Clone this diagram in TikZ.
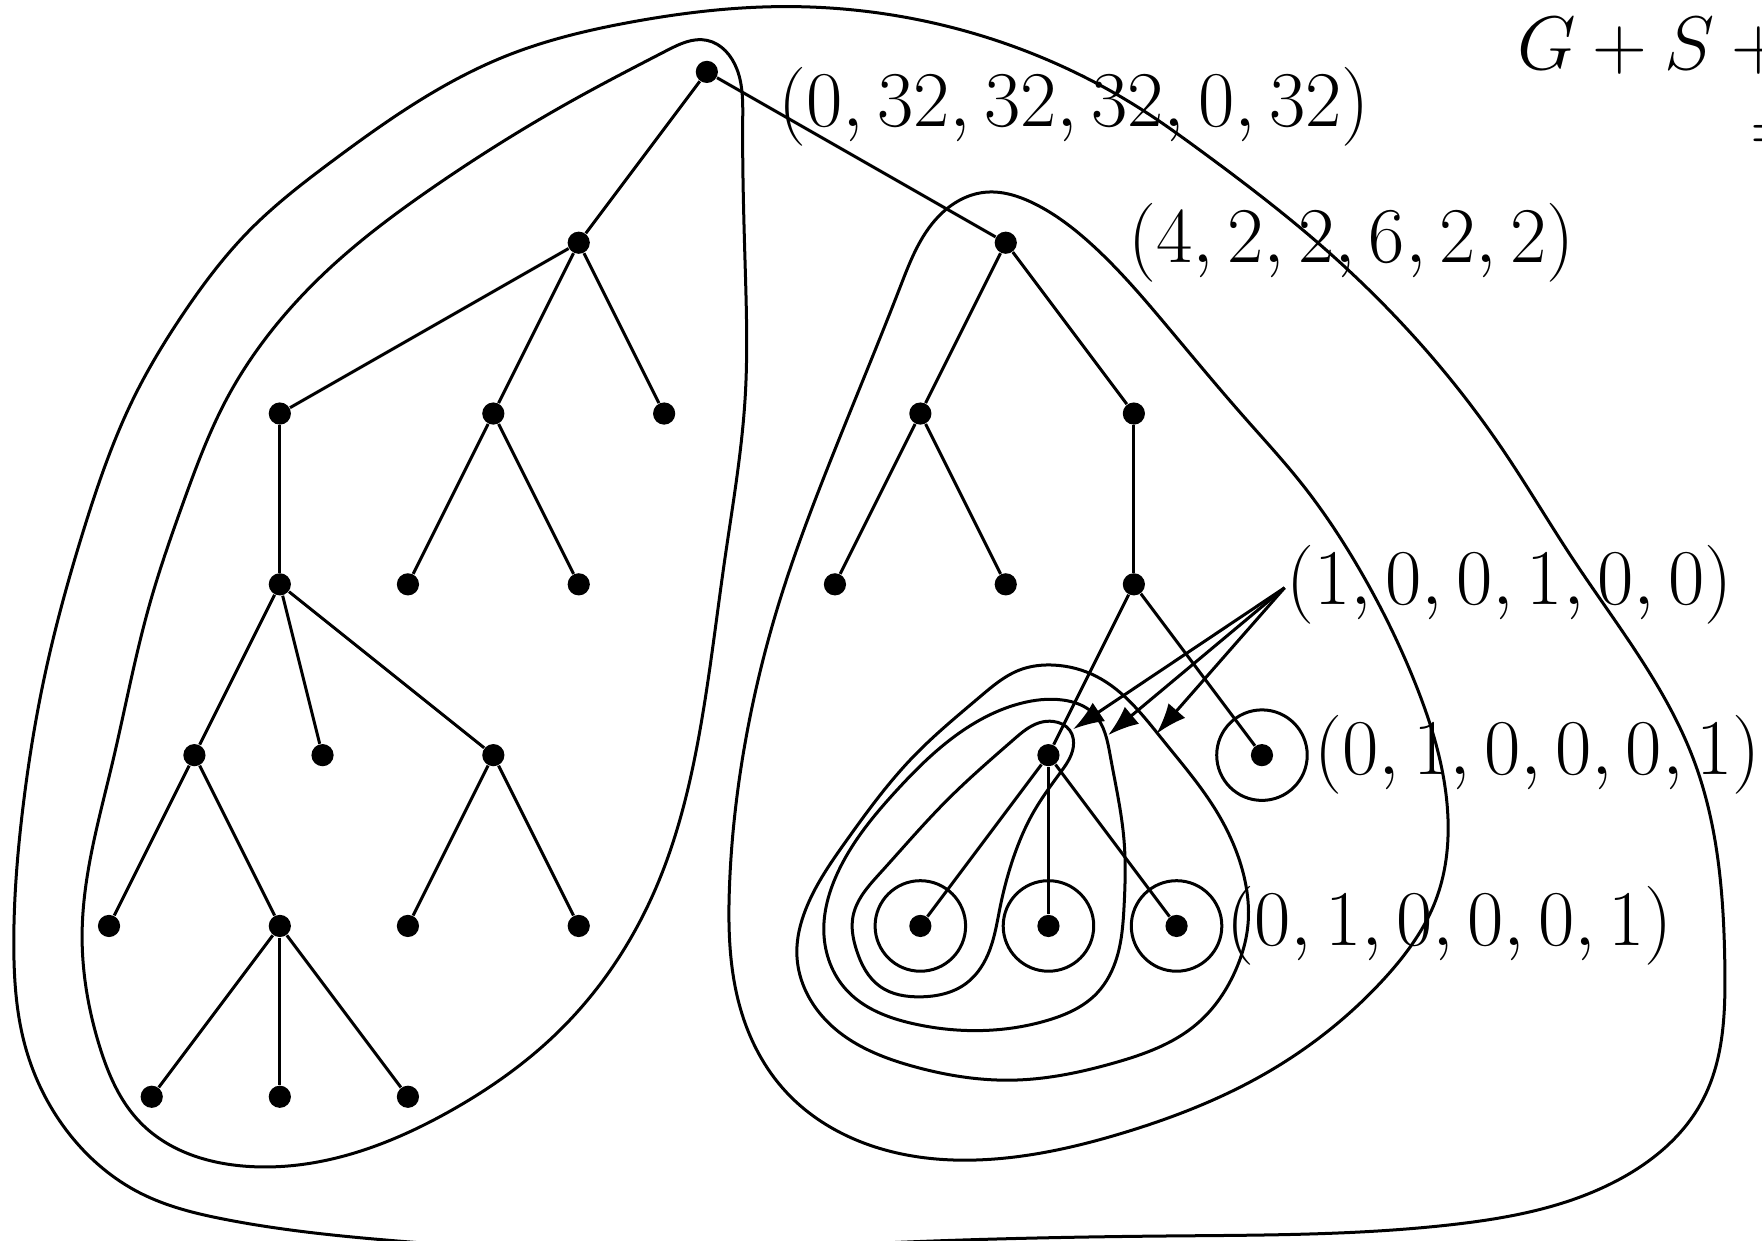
\RequirePackage{fix-cm}
\documentclass[tikz,border=0pt]{standalone}
\usepackage{xcolor}
\usepackage{tikz}
\usetikzlibrary{arrows.meta, hobby}
\usepackage{amsmath}

\begin{document}
\begin{tikzpicture}[
    x=0.5cm, y=0.5cm,
    dot/.style={circle, fill, inner sep=0pt, minimum size=2.6mm},
    edge/.style={line width=1pt},
    ring/.style={line width=1pt},
    hull/.style={line width=1pt, use Hobby shortcut, closed=true},
    lab/.style={font=\fontsize{26.3}{32}\selectfont, inner sep=0pt},
    eqn/.style={font=\fontsize{25.3}{30}\selectfont, inner sep=0pt, anchor=base west},
    ptr/.style={line width=1pt, -{Latex[length=3.6mm, width=2.6mm]}},
]
\useasboundingbox (-0.553,1.684) rectangle (40.71,-27.37);
\clip (-0.553,1.684) rectangle (40.71,-27.37);

% Tree nodes
\node[dot] (r) at (16, 0) {};
\node[dot] (a) at (13, -4) {};
\node[dot] (b) at (23, -4) {};
\node[dot] (c) at (6, -8) {};
\node[dot] (d) at (11, -8) {};
\node[dot] (e) at (15, -8) {};
\node[dot] (f) at (21, -8) {};
\node[dot] (g) at (26, -8) {};
\node[dot] (h) at (6, -12) {};
\node[dot] (i) at (9, -12) {};
\node[dot] (j) at (13, -12) {};
\node[dot] (k) at (19, -12) {};
\node[dot] (l) at (23, -12) {};
\node[dot] (m) at (26, -12) {};
\node[dot] (n) at (4, -16) {};
\node[dot] (o) at (7, -16) {};
\node[dot] (p) at (11, -16) {};
\node[dot] (q) at (24, -16) {};
\node[dot] (s) at (29, -16) {};
\node[dot] (t) at (2, -20) {};
\node[dot] (u) at (6, -20) {};
\node[dot] (v) at (9, -20) {};
\node[dot] (w) at (13, -20) {};
\node[dot] (x) at (21, -20) {};
\node[dot] (y) at (24, -20) {};
\node[dot] (z) at (27, -20) {};
\node[dot] (u1) at (3, -24) {};
\node[dot] (u2) at (6, -24) {};
\node[dot] (u3) at (9, -24) {};

% Edges
\draw[edge] (r) -- (a);
\draw[edge] (r) -- (b);
\draw[edge] (a) -- (c);
\draw[edge] (a) -- (d);
\draw[edge] (a) -- (e);
\draw[edge] (b) -- (f);
\draw[edge] (b) -- (g);
\draw[edge] (c) -- (h);
\draw[edge] (d) -- (i);
\draw[edge] (d) -- (j);
\draw[edge] (f) -- (k);
\draw[edge] (f) -- (l);
\draw[edge] (g) -- (m);
\draw[edge] (h) -- (n);
\draw[edge] (h) -- (o);
\draw[edge] (h) -- (p);
\draw[edge] (m) -- (q);
\draw[edge] (m) -- (s);
\draw[edge] (n) -- (t);
\draw[edge] (n) -- (u);
\draw[edge] (p) -- (v);
\draw[edge] (p) -- (w);
\draw[edge] (q) -- (x);
\draw[edge] (q) -- (y);
\draw[edge] (q) -- (z);
\draw[edge] (u) -- (u1);
\draw[edge] (u) -- (u2);
\draw[edge] (u) -- (u3);

% Rings round single leaves
\draw[ring] (s) circle[radius=0.53cm];
\draw[ring] (x) circle[radius=0.53cm];
\draw[ring] (y) circle[radius=0.53cm];
\draw[ring] (z) circle[radius=0.53cm];

% Outer hull
\draw[hull] (17.84,1.53) .. (22.08,0.95) .. (26.29,-0.95) .. (27.53,-1.82)
    .. (30.40,-4.08) .. (34.58,-8.76) .. (36.29,-11.42) .. (39.11,-16.11)
    .. (39.84,-20.95) .. (39.32,-24.08) .. (37.34,-25.95) .. (33.40,-27.0)
    .. (26.82,-27.26) .. (20.24,-27.42) .. (14.58,-27.63) .. (8.66,-27.37)
    .. (4.71,-26.87) .. (2.74,-26.26) .. (1.03,-24.82) .. (0.03,-22.79)
    .. (-0.23,-20.42) .. (-0.02,-17.26) .. (0.50,-14.11) .. (1.42,-10.68)
    .. (2.58,-7.63) .. (3.74,-5.66) .. (5.29,-3.71) .. (7.24,-2.08)
    .. (11.29,0.37) .. (14.19,1.16);

% Left hull (root and left subtree)
\draw[hull] (16.0,0.74) .. (16.71,0.05) .. (16.84,-1.13) .. (16.90,-4.63)
    .. (16.90,-7.58) .. (16.42,-11.42) .. (15.87,-15.24) .. (14.82,-19.08)
    .. (12.58,-22.42) .. (9.98,-24.34) .. (5.24,-25.63) .. (2.74,-24.61)
    .. (1.77,-22.79) .. (1.37,-20.16) .. (2.08,-16.18) .. (2.95,-12.47)
    .. (3.74,-10.08) .. (4.77,-7.63) .. (5.69,-6.21) .. (7.24,-4.53)
    .. (9.58,-2.71) .. (12.87,-0.66) .. (15.06,0.5);

% Right hull (subtree of b)
\draw[hull] (22.50,-2.82) .. (23.66,-3.08) .. (25.0,-4.03) .. (26.79,-5.97)
    .. (28.58,-8.08) .. (29.92,-9.63) .. (31.29,-11.66) .. (32.61,-14.37)
    .. (33.34,-17.21) .. (33.08,-19.37) .. (31.84,-21.26) .. (28.95,-23.53)
    .. (25.77,-24.84) .. (23.13,-25.42) .. (20.05,-25.21) .. (17.84,-23.87)
    .. (16.79,-21.95) .. (16.53,-19.08) .. (16.95,-15.42) .. (17.71,-12.37)
    .. (18.79,-9.37) .. (20.53,-5.03) .. (21.42,-3.39);

% Hulls round q
\draw[hull] (24.11,-13.89) .. (25.13,-14.16) .. (26.69,-15.66) .. (27.87,-17.21)
    .. (28.56,-18.76) .. (28.66,-20.08) .. (28.42,-20.95) .. (27.48,-22.29)
    .. (25.53,-23.21) .. (23.19,-23.61) .. (20.84,-23.29) .. (18.87,-22.29)
    .. (18.11,-20.71) .. (18.34,-19.55) .. (19.27,-18.0) .. (20.84,-16.03)
    .. (22.40,-14.63) .. (23.34,-14.0);
\draw[hull] (24.34,-14.71) .. (25.06,-15.03) .. (25.45,-16.03) .. (25.77,-18.0)
    .. (25.77,-19.55) .. (25.61,-20.71) .. (25.13,-21.58) .. (23.98,-22.21)
    .. (22.40,-22.45) .. (20.84,-22.29) .. (19.27,-21.5) .. (18.74,-20.16)
    .. (19.06,-18.76) .. (20.45,-16.82) .. (22.0,-15.42) .. (23.34,-14.79);
\draw[hull] (24.11,-15.21) .. (24.50,-15.42) .. (24.58,-15.82) .. (24.27,-16.42)
    .. (23.63,-17.37) .. (23.19,-18.37) .. (22.87,-19.55) .. (22.63,-20.55)
    .. (22.08,-21.34) .. (21.0,-21.66) .. (20.06,-21.42) .. (19.50,-20.55)
    .. (19.42,-19.79) .. (20.06,-18.76) .. (21.63,-17.05) .. (23.19,-15.63)
    .. (23.79,-15.24);

% Labels
\node[lab] (lr) at (24.6, -0.82) {$(0,32,32,32,0,32)$};
\node[lab] (lb) at (31.1, -4) {$(4,2,2,6,2,2)$};
\node[lab] (lm) at (34.8, -12) {$(1,0,0,1,0,0)$};
\node[lab] (ls) at (35.46, -16) {$(0,1,0,0,0,1)$};
\node[lab] (lz) at (33.4, -20) {$(0,1,0,0,0,1)$};
\node[eqn] (sum) at (34.96, 0.05) {$G+S+{}$};
\node[eqn] (eq) at (40.42, -1.89) {$=$};

% Pointers to the hulls round q
\coordinate (src) at (29.53, -12.08);
\coordinate (tip1) at (24.58, -15.39);
\coordinate (tip2) at (25.40, -15.53);
\coordinate (tip3) at (26.53, -15.5);
\draw[ptr] (src) -- (tip1);
\draw[ptr] (src) -- (tip2);
\draw[ptr] (src) -- (tip3);

\end{tikzpicture}
\end{document}
